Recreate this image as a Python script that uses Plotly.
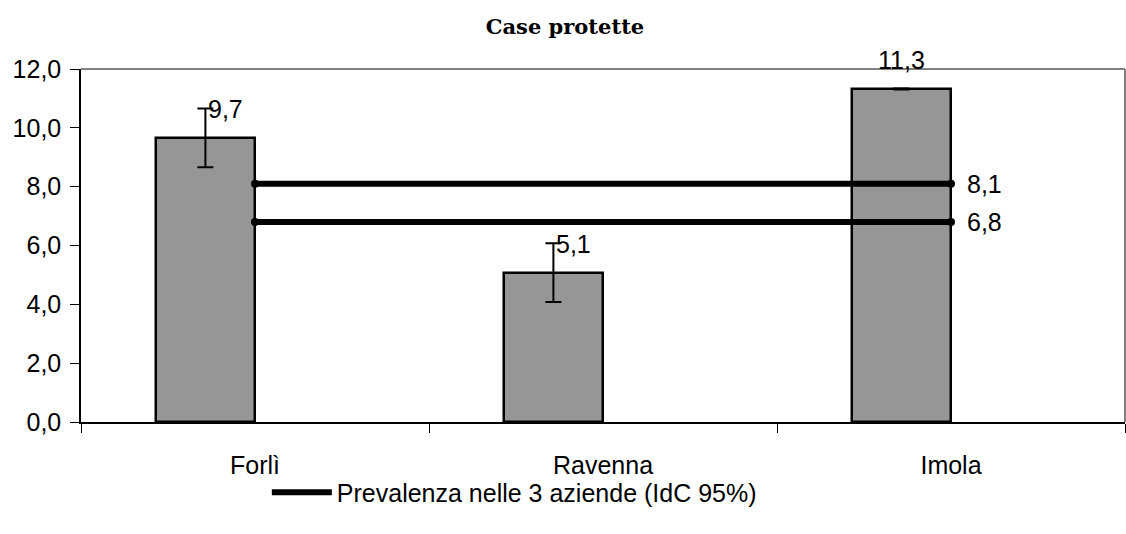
import plotly.graph_objects as go

# ---- data ----
categories = ["Forlì", "Ravenna", "Imola"]
values = [9.66, 5.08, 11.32]
errors = [1.0, 1.0, 0.02]
prev_upper = [8.1, 8.1, 8.1]
prev_lower = [6.8, 6.8, 6.8]
title_text = "Case protette"
legend_name = "Prevalenza nelle 3 aziende (IdC 95%)"
y_ticks = [0, 2, 4, 6, 8, 10, 12]

BAR_W = 0.285
FONT = "Liberation Sans, Arial, sans-serif"

def fmt(v):
    return f"{v:.1f}".replace(".", ",")

fig = go.Figure()

fig.add_trace(go.Bar(
    x=categories, y=values,
    width=BAR_W, offset=-BAR_W,
    marker=dict(color="#969696", line=dict(color="black", width=2.5)),
    error_y=dict(type="data", array=errors, visible=True,
                 color="black", thickness=2, width=8),
    showlegend=False, hoverinfo="x+y",
))

for i, ys in enumerate([prev_upper, prev_lower]):
    fig.add_trace(go.Scatter(
        x=categories, y=ys, mode="lines",
        line=dict(color="black", width=6),
        name=legend_name, legendgroup="prev",
        showlegend=(i == 0),
    ))
    fig.add_trace(go.Scatter(
        x=[categories[0], categories[-1]], y=[ys[0], ys[-1]], mode="markers",
        marker=dict(color="black", size=8),
        legendgroup="prev", showlegend=False, hoverinfo="skip",
    ))

annotations = []
# bar value labels
x_anchor = ["left", "left", "center"]
for i, v in enumerate(values):
    annotations.append(dict(
        x=i - BAR_W / 2, y=v, xref="x", yref="y",
        text=fmt(v), showarrow=False,
        xanchor=x_anchor[i], yanchor="middle",
        xshift=1 if x_anchor[i] == "left" else 0, yshift=29,
        font=dict(family=FONT, size=25, color="black"),
    ))
# prevalence labels at the right end
for ys in [prev_upper, prev_lower]:
    annotations.append(dict(
        x=len(categories) - 1, y=ys[-1], xref="x", yref="y",
        text=fmt(ys[-1]), showarrow=False,
        xanchor="left", yanchor="middle", xshift=14,
        font=dict(family=FONT, size=25, color="black"),
    ))

fig.update_layout(
    width=1126, height=534,
    margin=dict(l=81, r=1, t=69, b=112),
    paper_bgcolor="white", plot_bgcolor="white",
    separators=", ",
    font=dict(family=FONT, size=25, color="black"),
    title=dict(text=f"<b>{title_text}</b>", x=565 / 1126, xanchor="center",
               y=1 - 27 / 534, yanchor="middle",
               font=dict(family="DejaVu Serif, serif", size=21, color="black")),
    annotations=annotations,
    legend=dict(orientation="h", x=0.178, xanchor="left", y=-0.2, yanchor="middle",
                font=dict(family=FONT, size=25, color="black"),
                bgcolor="rgba(0,0,0,0)", itemwidth=60),
    shapes=[
        dict(type="line", xref="paper", yref="paper", x0=0, x1=1, y0=1, y1=1,
             line=dict(color="#808080", width=2)),
        dict(type="line", xref="paper", yref="paper", x0=1, x1=1, y0=0, y1=1,
             line=dict(color="#808080", width=2)),
    ],
    bargap=0,
)

fig.update_xaxes(
    type="category", range=[-0.5, 2.5], tickson="boundaries",
    ticks="outside", ticklen=9, tickcolor="black", tickwidth=1,
    showline=True, linecolor="black", linewidth=1.5,
    showgrid=False, zeroline=False, ticklabelstandoff=20, automargin=False,
    tickfont=dict(family=FONT, size=25, color="black"),
)
fig.update_yaxes(
    range=[0, 12], tickvals=y_ticks, tickformat=".1f",
    ticks="outside", ticklen=9, tickcolor="black", tickwidth=1,
    showline=True, linecolor="black", linewidth=1.5,
    showgrid=False, zeroline=False, ticklabelstandoff=4, automargin=False,
    tickfont=dict(family=FONT, size=25, color="black"),
)

fig.write_html("out.html", config={"displayModeBar": False},
               post_script="document.body.style.margin='0';document.body.style.overflow='hidden';")
